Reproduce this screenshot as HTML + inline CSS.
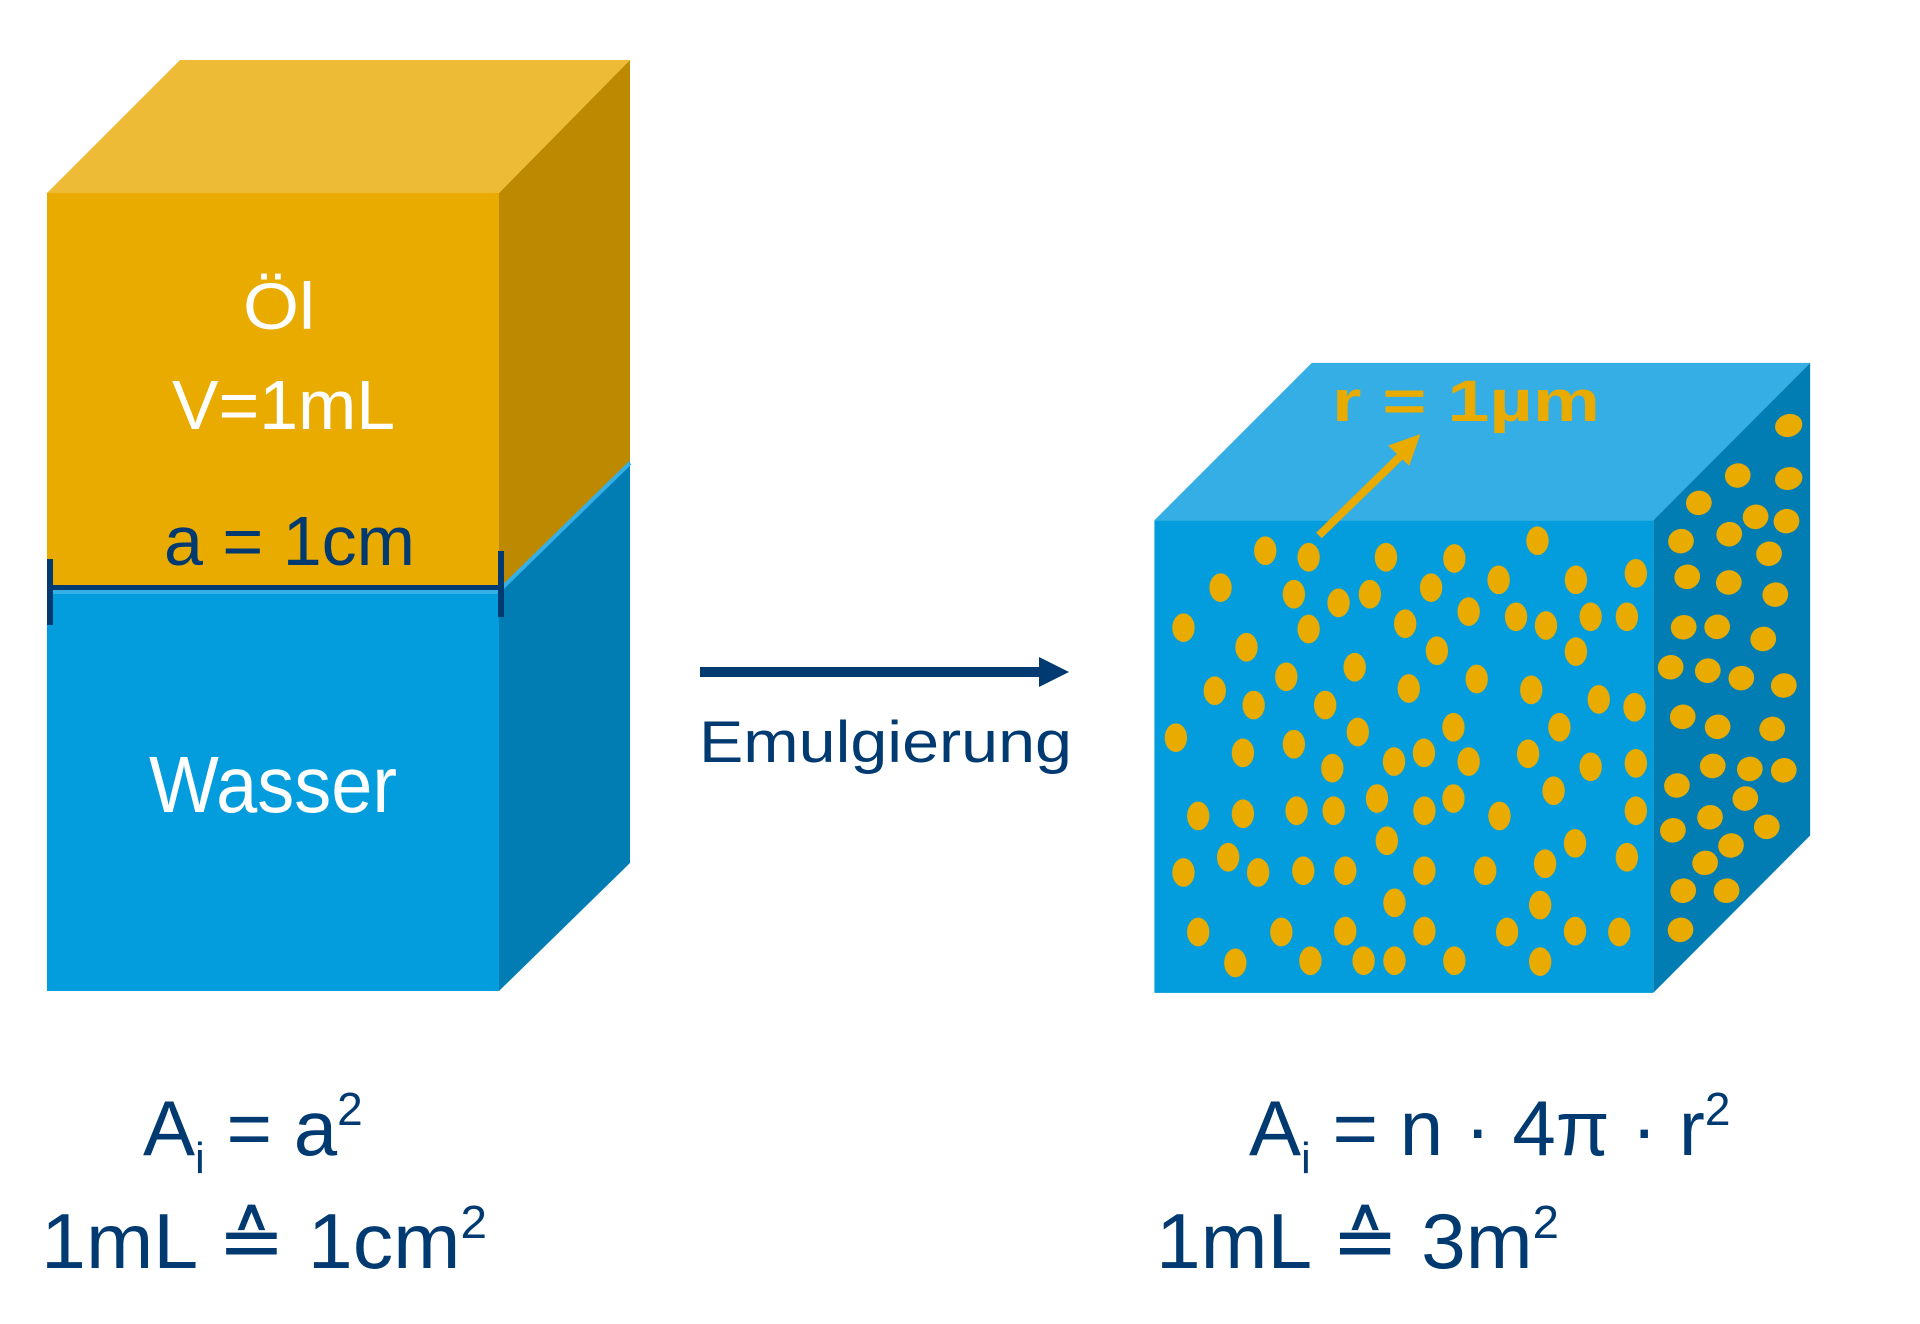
<!DOCTYPE html>
<html><head><meta charset="utf-8"><style>
html,body{margin:0;padding:0;background:#fff;}
svg{display:block;}
text{font-family:"Liberation Sans","DejaVu Sans",sans-serif;}
</style></head><body>
<svg width="1920" height="1324" viewBox="0 0 1920 1324" xmlns="http://www.w3.org/2000/svg">
<!-- Left cube -->
<polygon points="47,193 180,60 630,60 499,193" fill="#edbb35"/>
<polygon points="499,193 630,60 630,461 499,591" fill="#bc8900"/>
<polygon points="499,591 630,461 630,863 499,991" fill="#017db3"/>
<line x1="499" y1="591" x2="630" y2="463" stroke="#35b0e6" stroke-width="4"/>
<rect x="47" y="193" width="452" height="398" fill="#e9ab00"/>
<rect x="47" y="591" width="452" height="400" fill="#039ddd"/>
<rect x="47" y="589" width="452" height="5" fill="#35b0e6"/>
<rect x="47" y="585" width="455" height="5" fill="#003a70"/>
<rect x="47" y="559" width="6" height="66" fill="#003a70"/>
<rect x="498" y="551" width="6" height="66" fill="#003a70"/>
<text x="243" y="329" font-size="66" fill="#fff" textLength="72" lengthAdjust="spacingAndGlyphs">Öl</text>
<text x="172" y="429" font-size="70" fill="#fff" textLength="223" lengthAdjust="spacingAndGlyphs">V=1mL</text>
<text x="164" y="565" font-size="70" fill="#003a70" textLength="251" lengthAdjust="spacingAndGlyphs">a = 1cm</text>
<text x="149" y="812" font-size="80" fill="#fff" textLength="248" lengthAdjust="spacingAndGlyphs">Wasser</text>

<!-- Middle arrow -->
<rect x="700" y="667" width="345" height="10" fill="#003a70"/>
<polygon points="1039,657 1069,672 1039,687" fill="#003a70"/>
<text x="699" y="762" font-size="58" fill="#003a70" textLength="373" lengthAdjust="spacingAndGlyphs">Emulgierung</text>

<!-- Right cube -->
<g transform="translate(1141,342) scale(0.447,0.4348)">
<polygon points="30,410 382,48 1497,48 1146,410" fill="#34aee4"/>
<polygon points="1146,410 1497,48 1497,1135 1146,1497" fill="#017db3"/>
<rect x="30" y="410" width="1116" height="1087" fill="#039ddd"/>
<g fill="#e9ab00">
<ellipse cx="278" cy="480" rx="25" ry="33"/><ellipse cx="375" cy="495" rx="25" ry="33"/><ellipse cx="548" cy="495" rx="25" ry="33"/><ellipse cx="701" cy="498" rx="25" ry="33"/><ellipse cx="887" cy="457" rx="25" ry="33"/>
<ellipse cx="178" cy="565" rx="25" ry="33"/><ellipse cx="342" cy="580" rx="25" ry="33"/><ellipse cx="442" cy="600" rx="25" ry="33"/><ellipse cx="512" cy="580" rx="25" ry="33"/><ellipse cx="649" cy="565" rx="25" ry="33"/><ellipse cx="800" cy="547" rx="25" ry="33"/><ellipse cx="973" cy="547" rx="25" ry="33"/><ellipse cx="1107" cy="532" rx="25" ry="33"/>
<ellipse cx="95" cy="657" rx="25" ry="33"/><ellipse cx="375" cy="660" rx="25" ry="33"/><ellipse cx="591" cy="648" rx="25" ry="33"/><ellipse cx="733" cy="620" rx="25" ry="33"/><ellipse cx="839" cy="632" rx="25" ry="33"/><ellipse cx="906" cy="652" rx="25" ry="33"/><ellipse cx="1006" cy="632" rx="25" ry="33"/><ellipse cx="1087" cy="632" rx="25" ry="33"/>
<ellipse cx="236" cy="702" rx="25" ry="33"/><ellipse cx="662" cy="710" rx="25" ry="33"/><ellipse cx="973" cy="712" rx="25" ry="33"/>
<ellipse cx="325" cy="770" rx="25" ry="33"/><ellipse cx="478" cy="748" rx="25" ry="33"/><ellipse cx="751" cy="775" rx="25" ry="33"/><ellipse cx="165" cy="802" rx="25" ry="33"/><ellipse cx="252" cy="835" rx="25" ry="33"/><ellipse cx="412" cy="835" rx="25" ry="33"/><ellipse cx="599" cy="797" rx="25" ry="33"/><ellipse cx="873" cy="800" rx="25" ry="33"/><ellipse cx="1024" cy="822" rx="25" ry="33"/><ellipse cx="1104" cy="840" rx="25" ry="33"/>
<ellipse cx="78" cy="910" rx="25" ry="33"/><ellipse cx="485" cy="897" rx="25" ry="33"/><ellipse cx="699" cy="886" rx="25" ry="33"/><ellipse cx="936" cy="886" rx="25" ry="33"/>
<ellipse cx="228" cy="945" rx="25" ry="33"/><ellipse cx="342" cy="925" rx="25" ry="33"/><ellipse cx="428" cy="980" rx="25" ry="33"/><ellipse cx="566" cy="965" rx="25" ry="33"/><ellipse cx="633" cy="945" rx="25" ry="33"/><ellipse cx="733" cy="965" rx="25" ry="33"/><ellipse cx="866" cy="947" rx="25" ry="33"/><ellipse cx="1006" cy="977" rx="25" ry="33"/><ellipse cx="1107" cy="969" rx="25" ry="33"/>
<ellipse cx="128" cy="1090" rx="25" ry="33"/><ellipse cx="228" cy="1085" rx="25" ry="33"/><ellipse cx="348" cy="1078" rx="25" ry="33"/><ellipse cx="431" cy="1078" rx="25" ry="33"/><ellipse cx="528" cy="1050" rx="25" ry="33"/><ellipse cx="634" cy="1078" rx="25" ry="33"/><ellipse cx="699" cy="1050" rx="25" ry="33"/><ellipse cx="802" cy="1090" rx="25" ry="33"/><ellipse cx="923" cy="1032" rx="25" ry="33"/><ellipse cx="1107" cy="1078" rx="25" ry="33"/>
<ellipse cx="550" cy="1147" rx="25" ry="33"/><ellipse cx="971" cy="1153" rx="25" ry="33"/>
<ellipse cx="95" cy="1220" rx="25" ry="33"/><ellipse cx="195" cy="1185" rx="25" ry="33"/><ellipse cx="262" cy="1220" rx="25" ry="33"/><ellipse cx="363" cy="1216" rx="25" ry="33"/><ellipse cx="457" cy="1216" rx="25" ry="33"/><ellipse cx="634" cy="1216" rx="25" ry="33"/><ellipse cx="770" cy="1216" rx="25" ry="33"/><ellipse cx="904" cy="1200" rx="25" ry="33"/><ellipse cx="1087" cy="1185" rx="25" ry="33"/>
<ellipse cx="567" cy="1290" rx="25" ry="33"/><ellipse cx="893" cy="1295" rx="25" ry="33"/>
<ellipse cx="128" cy="1357" rx="25" ry="33"/><ellipse cx="314" cy="1357" rx="25" ry="33"/><ellipse cx="457" cy="1355" rx="25" ry="33"/><ellipse cx="634" cy="1355" rx="25" ry="33"/><ellipse cx="819" cy="1357" rx="25" ry="33"/><ellipse cx="971" cy="1355" rx="25" ry="33"/><ellipse cx="1070" cy="1357" rx="25" ry="33"/>
<ellipse cx="211" cy="1428" rx="25" ry="33"/><ellipse cx="379" cy="1423" rx="25" ry="33"/><ellipse cx="498" cy="1423" rx="25" ry="33"/><ellipse cx="567" cy="1423" rx="25" ry="33"/><ellipse cx="701" cy="1423" rx="25" ry="33"/><ellipse cx="893" cy="1425" rx="25" ry="33"/>
</g>
<g fill="#e9ab00">
<ellipse cx="1449" cy="192" rx="31" ry="26" transform="rotate(-20 1449 192)"/>
<ellipse cx="1335" cy="307" rx="29" ry="28" transform="rotate(-30 1335 307)"/>
<ellipse cx="1449" cy="314" rx="31" ry="26" transform="rotate(-15 1449 314)"/>
<ellipse cx="1248" cy="370" rx="29" ry="28" transform="rotate(-30 1248 370)"/>
<ellipse cx="1375" cy="402" rx="29" ry="28" transform="rotate(-30 1375 402)"/>
<ellipse cx="1444" cy="412" rx="29" ry="28" transform="rotate(-30 1444 412)"/>
<ellipse cx="1208" cy="458" rx="29" ry="28" transform="rotate(-30 1208 458)"/>
<ellipse cx="1316" cy="442" rx="29" ry="28" transform="rotate(-30 1316 442)"/>
<ellipse cx="1405" cy="487" rx="29" ry="28" transform="rotate(-30 1405 487)"/>
<ellipse cx="1222" cy="540" rx="29" ry="28" transform="rotate(-30 1222 540)"/>
<ellipse cx="1315" cy="553" rx="29" ry="28" transform="rotate(-30 1315 553)"/>
<ellipse cx="1419" cy="581" rx="29" ry="28" transform="rotate(-30 1419 581)"/>
<ellipse cx="1214" cy="656" rx="29" ry="28" transform="rotate(-30 1214 656)"/>
<ellipse cx="1289" cy="655" rx="29" ry="28" transform="rotate(-30 1289 655)"/>
<ellipse cx="1392" cy="683" rx="29" ry="28" transform="rotate(-30 1392 683)"/>
<ellipse cx="1185" cy="748" rx="29" ry="28" transform="rotate(-30 1185 748)"/>
<ellipse cx="1268" cy="756" rx="29" ry="28" transform="rotate(-30 1268 756)"/>
<ellipse cx="1343" cy="773" rx="29" ry="28" transform="rotate(-30 1343 773)"/>
<ellipse cx="1438" cy="790" rx="29" ry="28" transform="rotate(-30 1438 790)"/>
<ellipse cx="1212" cy="862" rx="29" ry="28" transform="rotate(-30 1212 862)"/>
<ellipse cx="1290" cy="885" rx="29" ry="28" transform="rotate(-30 1290 885)"/>
<ellipse cx="1412" cy="890" rx="29" ry="28" transform="rotate(-30 1412 890)"/>
<ellipse cx="1279" cy="975" rx="29" ry="28" transform="rotate(-30 1279 975)"/>
<ellipse cx="1362" cy="982" rx="29" ry="28" transform="rotate(-30 1362 982)"/>
<ellipse cx="1438" cy="985" rx="29" ry="28" transform="rotate(-30 1438 985)"/>
<ellipse cx="1199" cy="1020" rx="29" ry="28" transform="rotate(-30 1199 1020)"/>
<ellipse cx="1352" cy="1050" rx="29" ry="28" transform="rotate(-30 1352 1050)"/>
<ellipse cx="1190" cy="1123" rx="29" ry="28" transform="rotate(-30 1190 1123)"/>
<ellipse cx="1273" cy="1093" rx="29" ry="28" transform="rotate(-30 1273 1093)"/>
<ellipse cx="1400" cy="1115" rx="29" ry="28" transform="rotate(-30 1400 1115)"/>
<ellipse cx="1320" cy="1158" rx="29" ry="28" transform="rotate(-30 1320 1158)"/>
<ellipse cx="1262" cy="1198" rx="29" ry="28" transform="rotate(-30 1262 1198)"/>
<ellipse cx="1213" cy="1262" rx="29" ry="28" transform="rotate(-30 1213 1262)"/>
<ellipse cx="1310" cy="1262" rx="29" ry="28" transform="rotate(-30 1310 1262)"/>
<ellipse cx="1207" cy="1352" rx="29" ry="28" transform="rotate(-30 1207 1352)"/>
</g>
<line x1="398" y1="445" x2="585" y2="258" stroke="#e9ab00" stroke-width="18"/>
<polygon points="625,212 553,238 600,285" fill="#e9ab00"/>
</g>
<text x="1332" y="421" font-size="58" font-weight="bold" fill="#e9ab00" textLength="268" lengthAdjust="spacingAndGlyphs">r = 1µm</text>

<!-- Bottom formulas -->
<g fill="#003a70">
<text x="143" y="1155" font-size="78">A<tspan font-size="44" dy="18">i</tspan><tspan dy="-18"> = a</tspan><tspan font-size="46" dy="-30">2</tspan></text>
<text x="41" y="1268" font-size="78" textLength="446" lengthAdjust="spacingAndGlyphs">1mL ≙ 1cm<tspan font-size="46" dy="-30">2</tspan></text>
<text x="1249" y="1155" font-size="78">A<tspan font-size="44" dy="18">i</tspan><tspan dy="-18"> = n · 4π · r</tspan><tspan font-size="46" dy="-30">2</tspan></text>
<text x="1156" y="1268" font-size="78" textLength="403" lengthAdjust="spacingAndGlyphs">1mL ≙ 3m<tspan font-size="46" dy="-30">2</tspan></text>
</g>
</svg>
</body></html>
